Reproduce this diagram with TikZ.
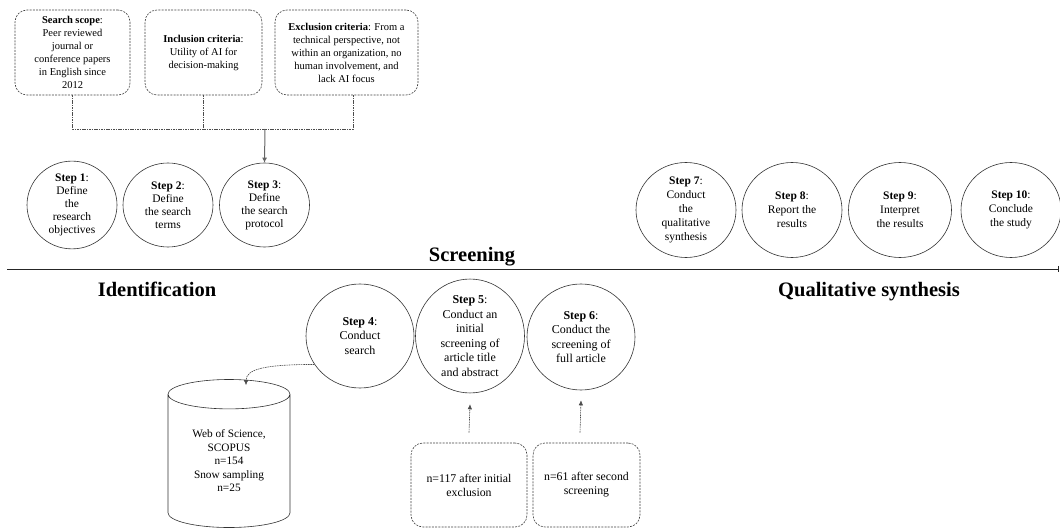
\documentclass[tikz,border=0pt]{standalone}
\usepackage{fontspec}
\setmainfont{Liberation Serif}
\usetikzlibrary{arrows.meta, positioning, shapes.geometric}

\begin{document}
\begin{tikzpicture}[x=1pt, y=-1pt,
    every node/.style={align=center, inner sep=0pt, font=\fontsize{10.5}{13}\selectfont},
    stepnode/.style={draw=black!80, line width=0.6pt, ellipse, minimum width=90pt, minimum height=84pt, font=\fontsize{11.5}{13}\selectfont},
    widestep/.style={stepnode, minimum width=100pt, minimum height=95pt, font=\fontsize{11.5}{14}\selectfont},
    searchstep/.style={stepnode, minimum width=108pt, minimum height=106pt, font=\fontsize{12}{14.5}\selectfont},
    critbox/.style={draw=black!75, line width=0.6pt, dash pattern=on 2pt off 1.2pt, rounded corners=12pt, minimum height=85pt},
    countbox/.style={critbox, minimum width=116pt, minimum height=84pt, font=\fontsize{11.8}{14}\selectfont},
    dashline/.style={draw=black!70, line width=0.6pt, dash pattern=on 1.6pt off 0.8pt},
    phase/.style={anchor=base, font=\fontsize{20.5}{24}\selectfont\bfseries}]

    \useasboundingbox (0,0) rectangle (1060,529);

    % Criteria boxes
    \node (scope) [critbox, minimum width=115pt] at (72.5,52.5) {\textbf{Search scope}:\\Peer reviewed\\journal or\\conference papers\\in English since\\2012};
    \node (incl) [critbox, minimum width=117pt] at (203.5,52.5) {\textbf{Inclusion criteria}:\\Utility of AI for\\decision-making};
    \node (excl) [critbox, minimum width=143pt] at (346.5,52.5) {\textbf{Exclusion criteria}: From a\\technical perspective, not\\within an organization, no\\human involvement, and\\lack AI focus};

    % Planning steps
    \node (s1) [stepnode] at (72,205) {\textbf{Step 1}:\\Define\\the\\research\\objectives};
    \node (s2) [stepnode] at (168,205) {\textbf{Step 2}:\\Define\\the search\\terms};
    \node (s3) [stepnode] at (264.5,205) {\textbf{Step 3}:\\Define\\the search\\protocol};

    % Reporting steps
    \node (s7) [widestep] at (686,210) {\textbf{Step 7}:\\Conduct\\the\\qualitative\\synthesis};
    \node (s8) [widestep] at (792,210) {\textbf{Step 8}:\\Report the\\results};
    \node (s9) [widestep, minimum width=103pt] at (900,210) {\textbf{Step 9}:\\Interpret\\the results};
    \node (s10) [widestep] at (1011,210) {\textbf{Step 10}:\\Conclude\\the study};

    % Phase line and labels
    \coordinate (lineL) at (7,269);
    \coordinate (lineR) at (1059,269);
    \draw [black!85, line width=0.7pt, -{Bar[width=6pt]}] (lineL) -- (lineR);
    \node (screen) [phase] at (472,262) {Screening};
    \node (ident) [phase] at (157,297) {Identification};
    \node (synth) [phase] at (869,297) {Qualitative synthesis};

    % Search steps
    \node (s4) [searchstep, minimum height=104pt] at (360,336) {\textbf{Step 4}:\\Conduct\\search};
    \node (s5) [searchstep, minimum width=109pt, minimum height=112pt] at (470,336) {\textbf{Step 5}:\\Conduct an\\initial\\screening of\\article title\\and abstract};
    \node (s6) [searchstep] at (581,337) {\textbf{Step 6}:\\Conduct the\\screening of\\full article};

    % Database
    \node (db) [draw=black!80, line width=0.6pt, cylinder, shape border rotate=90, aspect=0.4,
        minimum width=122pt, minimum height=148pt, font=\fontsize{11.3}{13.5}\selectfont] at (229,461)
        {Web of Science,\\SCOPUS\\n=154\\Snow sampling\\n=25};

    % Exclusion counts
    \node (ex1) [countbox] at (469,485) {n=117 after initial\\exclusion};
    \node (ex2) [countbox, minimum width=107pt] at (586.5,485) {n=61 after second\\screening};

    % Edges
    \coordinate (join) at (265,129);
    \draw [dashline] (scope.south) |- (join);
    \draw [dashline] (incl.south) -- (incl.south |- join);
    \draw [dashline] ([xshift=6.5pt]excl.south) |- (join);
    \draw [black!60, line width=1pt, -{Latex[length=5pt, width=5pt]}] (join) -- (s3.north);
    \coordinate (dbin) at ([xshift=17pt, yshift=-6pt]db.top);
    \draw [dashline, -{Latex[length=5pt, width=4.5pt]}] (s4.212) .. controls +(-50,0) and +(0,-16) .. (dbin);
    \draw [dashline, -{Latex[length=5pt, width=4.5pt]}] ([yshift=10pt]ex1.north) -- ([yshift=-11pt]s5.south);
    \draw [dashline, -{Latex[length=5pt, width=4.5pt]}] ([xshift=-6.5pt, yshift=10pt]ex2.north) -- ([yshift=-10pt]s6.south);
\end{tikzpicture}
\end{document}
